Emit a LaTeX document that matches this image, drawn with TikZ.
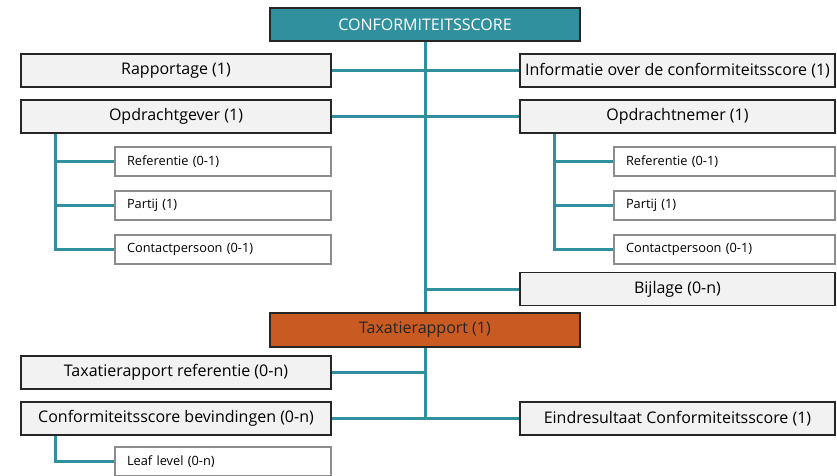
\documentclass[tikz,border=0pt]{standalone}
\usepackage{fontspec}
\setmainfont{Open Sans}
\definecolor{teal}{HTML}{31909E}
\definecolor{rust}{HTML}{C85A22}
\definecolor{pale}{HTML}{F2F2F2}
\tikzset{
	mbox/.style={draw=black!85,line width=1.3pt,fill=pale,minimum width=310pt,minimum height=33pt,inner sep=0pt,font=\fontsize{16}{18}\selectfont},
	sbox/.style={draw=black!45,line width=1.3pt,fill=white,minimum height=29pt,inner xsep=12pt,inner ysep=0pt,text width=192pt,align=left,font=\fontsize{12.8}{15}\selectfont},
	link/.style={draw=teal,line width=3pt}
}
\begin{document}
\begin{tikzpicture}[x=1pt,y=-1pt]
	\useasboundingbox (0,0) rectangle (837,475);
	\node [mbox,fill=teal,text=white] (conf) at (425,24.5) {CONFORMITEITSSCORE};
	\node [mbox] (rap) at (176,70.5) {Rapportage (1)};
	\node [mbox,minimum width=315pt] (info) at (677.5,70.5) {Informatie over de conformiteitsscore (1)};
	\node [mbox] (og) at (176,116.5) {Opdrachtgever (1)};
	\node [mbox,minimum width=315pt] (on) at (677.5,116.5) {Opdrachtnemer (1)};
	\node [sbox] (og1) at (223,161.5) {Referentie (0-1)};
	\node [sbox] (og2) at (223,205.5) {Partij (1)};
	\node [sbox] (og3) at (223,249.5) {Contactpersoon (0-1)};
	\node [sbox,text width=197pt] (on1) at (724.5,161.5) {Referentie (0-1)};
	\node [sbox,text width=197pt] (on2) at (724.5,205.5) {Partij (1)};
	\node [sbox,text width=197pt] (on3) at (724.5,249.5) {Contactpersoon (0-1)};
	\node [mbox,minimum width=315pt] (bij) at (677.5,289) {Bijlage (0-n)};
	\node [mbox,fill=rust,text=black!85,minimum height=34pt] (tax) at (425,330) {Taxatierapport (1)};
	\node [mbox] (tref) at (176,372.5) {Taxatierapport referentie (0-n)};
	\node [mbox] (bev) at (176,418.5) {Conformiteitsscore bevindingen (0-n)};
	\node [mbox,minimum width=315pt] (eind) at (677.5,418.5) {Eindresultaat Conformiteitsscore (1)};
	\node [sbox] (leaf) at (223,461.5) {Leaf level (0-n)};

	\coordinate (ogb) at ([xshift=35pt]og.south west);
	\coordinate (onb) at ([xshift=35pt]on.south west);
	\coordinate (bevb) at ([xshift=35pt]bev.south west);

	\draw [link] (conf) -- (tax);
	\draw [link] (rap) -- (info);
	\draw [link] (og) -- (on);
	\draw [link] (bij.west) -- (bij.west -| conf.south);
	\draw [link] (tax.south) -- (tax.south |- bev.east);
	\draw [link] (tref.east) -- (tref.east -| tax.south);
	\draw [link] (bev) -- (eind);
	\draw [link] (ogb) |- (og3.west);
	\draw [link] (ogb |- og1.west) -- (og1.west);
	\draw [link] (ogb |- og2.west) -- (og2.west);
	\draw [link] (onb) |- (on3.west);
	\draw [link] (onb |- on1.west) -- (on1.west);
	\draw [link] (onb |- on2.west) -- (on2.west);
	\draw [link] (bevb) |- (leaf.west);
\end{tikzpicture}
\end{document}
